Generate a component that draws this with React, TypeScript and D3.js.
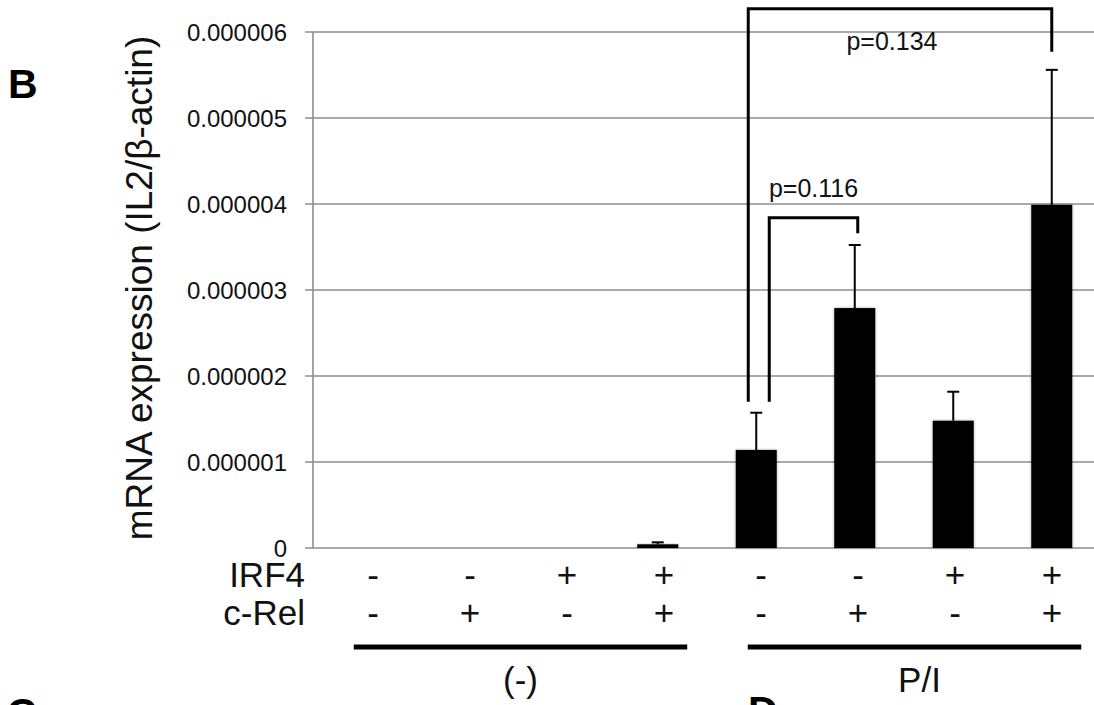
import React from "react";
import * as d3 from "d3";

// ---- data ----
const categories = ["c1", "c2", "c3", "c4", "c5", "c6", "c7", "c8"];
const treatment = ["(-)", "(-)", "(-)", "(-)", "P/I", "P/I", "P/I", "P/I"];
const irf4 = ["-", "-", "+", "+", "-", "-", "+", "+"];
const cRel = ["-", "+", "-", "+", "-", "+", "-", "+"];
const means = [0, 0, 0, 0.043e-6, 1.14e-6, 2.79e-6, 1.48e-6, 3.99e-6];
const errUp = [0, 0, 0, 0.023e-6, 0.433e-6, 0.733e-6, 0.337e-6, 1.57e-6];
const yTicks = [0, 1e-6, 2e-6, 3e-6, 4e-6, 5e-6, 6e-6];
const groups = ["(-)", "P/I"];
const rowLabels = ["IRF4", "c-Rel"];

// significance brackets
const bracketFrom = [4, 4];
const bracketTo = [5, 7];
const bracketTop = [3.84e-6, 6.27e-6];
const bracketFromEnd = [1.7e-6, 1.7e-6];
const bracketToEnd = [3.66e-6, 5.77e-6];
const pLabels = ["p=0.116", "p=0.134"];

const W = 1094;
const H = 705;
const FONT = "'Liberation Sans', Arial, sans-serif";

export default function App() {
  const x = d3
    .scaleBand<string>()
    .domain(categories)
    .range([313, 1101])
    .paddingInner(0.584)
    .paddingOuter(0.292);
  const y = d3.scaleLinear().domain([0, 6e-6]).range([548, 32]);
  const tableX = d3.scalePoint<string>().domain(categories).range([373, 1052]);
  const fmt = (v: number) => (v === 0 ? "0" : d3.format(".6f")(v));
  const bw = x.bandwidth();
  const cx = (i: number) => (x(categories[i]) as number) + bw / 2;
  const legOffsets = [13, -8];
  const pOffsets = [-21, 41];

  return (
    <svg
      width={W}
      height={H}
      style={{ position: "absolute", left: 0, top: 0, background: "#fff" }}
      fontFamily={FONT}
    >
      <defs>
        <filter id="sh" x="-20%" y="-20%" width="140%" height="140%">
          <feDropShadow dx="0" dy="0" stdDeviation="1.6" floodColor="#000" floodOpacity="0.35" />
        </filter>
      </defs>

      {/* panel letters */}
      <text x={8} y={98} fontSize={41} fontWeight="bold">B</text>
      <text x={7} y={727} fontSize={41} fontWeight="bold">C</text>
      <text x={748} y={725} fontSize={41} fontWeight="bold">D</text>

      {/* gridlines + ticks */}
      {yTicks.map((t) => (
        <g key={t}>
          <line x1={305} x2={W} y1={y(t)} y2={y(t)} stroke="#8e8e8e" strokeWidth={1.6} />
          <text
            x={287}
            y={y(t)}
            textAnchor="end"
            dominantBaseline="central"
            fontSize={24}
            fill="#111"
          >
            {fmt(t)}
          </text>
        </g>
      ))}
      <line x1={313} x2={313} y1={y(6e-6)} y2={y(0)} stroke="#8e8e8e" strokeWidth={1.6} />

      {/* y title */}
      <text
        transform={`translate(152,288) rotate(-90)`}
        textAnchor="middle"
        fontSize={37}
        fill="#111"
      >
        mRNA expression (IL2/β-actin)
      </text>

      {/* bars */}
      {categories.map((c, i) =>
        means[i] > 0 ? (
          <rect
            key={c}
            x={x(c)}
            y={y(means[i])}
            width={bw}
            height={y(0) - y(means[i])}
            fill="#000"
            filter="url(#sh)"
          />
        ) : null
      )}

      {/* error bars */}
      {categories.map((c, i) =>
        errUp[i] > 0 ? (
          <g key={c} stroke="#000" strokeWidth={2}>
            <line x1={cx(i)} x2={cx(i)} y1={y(means[i])} y2={y(means[i] + errUp[i])} />
            <line x1={cx(i) - 6} x2={cx(i) + 6} y1={y(means[i] + errUp[i])} y2={y(means[i] + errUp[i])} />
          </g>
        ) : null
      )}

      {/* brackets */}
      {bracketFrom.map((f, k) => {
        const x1 = cx(f) + legOffsets[k];
        const x2 = cx(bracketTo[k]) + (k === 0 ? 3 : 0);
        const yt = y(bracketTop[k]);
        return (
          <g key={k}>
            <path
              d={`M${x1},${y(bracketFromEnd[k])}V${yt}H${x2}V${y(bracketToEnd[k])}`}
              fill="none"
              stroke="#000"
              strokeWidth={3}
            />
            <text
              x={(x1 + x2) / 2 - (k === 1 ? 8 : 0)}
              y={yt + pOffsets[k]}
              textAnchor="middle"
              fontSize={25}
              fill="#111"
            >
              {pLabels[k]}
            </text>
          </g>
        );
      })}

      {/* table */}
      {rowLabels.map((r, ri) => (
        <text key={r} x={305} y={587 + ri * 38} textAnchor="end" fontSize={35} fill="#111">
          {r}
        </text>
      ))}
      {categories.map((c, i) => (
        <g key={c}>
          <text x={tableX(c)} y={587} textAnchor="middle" fontSize={35} fill="#111">
            {irf4[i]}
          </text>
          <text x={tableX(c)} y={625} textAnchor="middle" fontSize={35} fill="#111">
            {cRel[i]}
          </text>
        </g>
      ))}

      {/* group underlines */}
      {groups.map((g) => {
        const idx = treatment.map((t, i) => (t === g ? i : -1)).filter((i) => i >= 0);
        const first = idx[0];
        const last = idx[idx.length - 1];
        const gx1 = (x(categories[first]) as number) + 12;
        const gx2 = (x(categories[last]) as number) + bw + 9;
        return (
          <g key={g}>
            <line x1={gx1} x2={gx2} y1={647} y2={647} stroke="#000" strokeWidth={5} />
            <text x={(gx1 + gx2) / 2 + (g === "P/I" ? 5 : 0)} y={692} textAnchor="middle" fontSize={35} fill="#111">
              {g}
            </text>
          </g>
        );
      })}
    </svg>
  );
}
